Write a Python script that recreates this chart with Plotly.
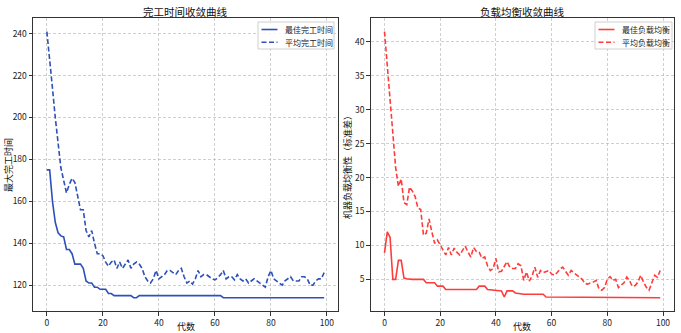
import plotly.graph_objects as go
from plotly.subplots import make_subplots

# Generation index and convergence histories
generations = list(range(100))

best_makespan = [
    175, 175, 160, 150, 145, 143.5, 143, 137, 137, 135,
    130, 130, 130, 128, 122, 121, 121, 119, 119, 118,
    118, 118, 116, 116, 115, 115, 115, 115, 115, 115,
    115, 114, 114, 115, 115, 115, 115, 115, 115, 115,
    115, 115, 115, 115, 115, 115, 115, 115, 115, 115,
    115, 115, 115, 115, 115, 115, 115, 115, 115, 115,
    115, 115, 115, 114, 114, 114, 114, 114, 114, 114,
    114, 114, 114, 114, 114, 114, 114, 114, 114, 114,
    114, 114, 114, 114, 114, 114, 114, 114, 114, 114,
    114, 114, 114, 114, 114, 114, 114, 114, 114, 114,
]

avg_makespan = [
    241, 229, 214, 200, 187, 176, 170, 164, 168, 171,
    169, 162, 156, 156, 146, 143, 146, 140, 135, 135,
    134, 131, 129, 131, 132, 128, 131, 128, 130, 132,
    128, 130, 131, 130, 128, 124, 122, 121, 123, 127,
    123, 124, 125, 127, 127, 126, 125, 127, 128, 124,
    121, 122, 120.5, 123, 127, 124, 125, 125, 124, 123,
    122.5, 123.5, 125, 127, 123, 124, 124, 122.5, 125, 123,
    122, 123, 121, 122, 123, 122, 121, 120, 119, 124,
    127, 123, 122, 121, 120, 122, 123, 124, 122, 122,
    122, 124, 124, 123, 120, 120, 122, 123, 123, 126,
]

best_balance = [
    8.9, 12.0, 11.2, 5.0, 5.0, 7.8, 7.8, 5.2, 5.1, 5.0,
    5.0, 5.0, 5.0, 5.0, 5.0, 4.5, 4.5, 4.5, 4.5, 4.0,
    4.0, 4.0, 3.5, 3.5, 3.5, 3.5, 3.5, 3.5, 3.5, 3.5,
    3.5, 3.5, 3.5, 3.5, 4.0, 4.0, 4.0, 3.5, 3.45, 3.4,
    3.3, 3.3, 3.3, 2.4, 3.3, 3.3, 3.3, 3.0, 2.9, 2.8,
    2.8, 2.8, 2.8, 2.8, 2.8, 2.8, 2.8, 2.8, 2.4, 2.4,
    2.4, 2.4, 2.4, 2.4, 2.4, 2.3, 2.3, 2.3, 2.3, 2.3,
    2.3, 2.3, 2.3, 2.3, 2.3, 2.3, 2.3, 2.3, 2.3, 2.3,
    2.3, 2.3, 2.3, 2.3, 2.3, 2.3, 2.3, 2.3, 2.3, 2.3,
    2.3, 2.3, 2.3, 2.3, 2.3, 2.3, 2.3, 2.3, 2.3, 2.3,
]

avg_balance = [
    41.5, 36.5, 31.5, 26.5, 21.5, 18.7, 19.8, 16.3, 16.0, 18.6,
    18.0, 17.2, 15.5, 15.3, 11.5, 11.8, 13.9, 12.0, 10.3, 10.8,
    10.0, 9.2, 8.6, 9.7, 8.6, 9.6, 9.0, 8.6, 9.2, 9.9,
    9.0, 8.3, 9.7, 9.1, 9.0, 8.1, 8.3, 7.0, 6.3, 6.6,
    8.1, 6.1, 6.2, 6.9, 7.6, 6.8, 6.6, 6.6, 7.3, 7.0,
    4.85, 6.1, 4.75, 5.5, 6.8, 5.3, 6.3, 6.0, 6.2, 6.3,
    5.8, 5.6, 6.0, 6.5, 6.8, 6.2, 5.6, 6.3, 6.0, 5.6,
    5.3, 5.0, 4.4, 4.3, 4.5, 4.6, 4.85, 3.6, 3.4, 3.8,
    5.0, 5.4, 4.85, 5.0, 3.8, 4.2, 4.5, 5.35, 4.8, 3.95,
    4.1, 4.6, 5.6, 4.6, 3.85, 3.4, 4.6, 5.6, 5.3, 6.3,
]

series_names = ["最佳完工时间", "平均完工时间", "最佳负载均衡", "平均负载均衡"]

BLUE = "rgb(45,80,185)"
RED = "rgb(255,60,60)"
DASH = "5px,2.5px"
FONT = "Noto Sans CJK SC, SimHei, sans-serif"
W, H = 681, 333

fig = make_subplots(rows=1, cols=2)

fig.add_trace(go.Scatter(x=generations, y=best_makespan, mode="lines", name=series_names[0],
                         line=dict(color=BLUE, width=1.6)), row=1, col=1)
fig.add_trace(go.Scatter(x=generations, y=avg_makespan, mode="lines", name=series_names[1],
                         line=dict(color=BLUE, width=1.6, dash=DASH)), row=1, col=1)
fig.add_trace(go.Scatter(x=generations, y=best_balance, mode="lines", name=series_names[2],
                         line=dict(color=RED, width=1.6)), row=1, col=2)
fig.add_trace(go.Scatter(x=generations, y=avg_balance, mode="lines", name=series_names[3],
                         line=dict(color=RED, width=1.6, dash=DASH)), row=1, col=2)

def px_x(p):
    return p / W

def px_y(p):
    return 1 - p / H

axis_common = dict(
    showline=True, linecolor="#333", linewidth=1, mirror=True,
    ticks="outside", ticklen=3.5, tickwidth=1, tickcolor="#333",
    showgrid=True, gridcolor="rgba(175,175,175,0.6)", gridwidth=0.8, griddash="3px,2px",
    zeroline=False, tickfont=dict(family=FONT, size=8.5, color="#222"),
)

left_dom = [px_x(33), px_x(338)]
right_dom = [px_x(370.7), px_x(674)]
y_dom = [px_y(311), px_y(18.3)]

fig.update_xaxes(**axis_common, range=[-4.95, 103.95], tickvals=[0, 20, 40, 60, 80, 100])
fig.update_yaxes(**axis_common)
fig.update_layout(
    xaxis=dict(domain=left_dom),
    xaxis2=dict(domain=right_dom),
    yaxis=dict(domain=y_dom, range=[107.65, 247.35], tickvals=[120, 140, 160, 180, 200, 220, 240]),
    yaxis2=dict(domain=y_dom, range=[0.34, 43.46], tickvals=[5, 10, 15, 20, 25, 30, 35, 40]),
)

# Compact legend boxes in the upper-right corner of each panel
shapes = []
annotations = []
legend_boxes = [
    (258, 334, BLUE, series_names[0:2]),
    (595, 672, RED, series_names[2:4]),
]
for x0, x1, color, names in legend_boxes:
    shapes.append(dict(type="rect", xref="paper", yref="paper",
                       x0=px_x(x0), x1=px_x(x1), y0=px_y(49), y1=px_y(22),
                       line=dict(color="#cfcfcf", width=1), fillcolor="rgba(255,255,255,0.85)",
                       layer="above"))
    for row, (name, dash) in enumerate(zip(names, ["solid", DASH])):
        yy = 29.5 + 12.8 * row
        shapes.append(dict(type="line", xref="paper", yref="paper",
                           x0=px_x(x0 + 3.5), x1=px_x(x0 + 19.5), y0=px_y(yy), y1=px_y(yy),
                           line=dict(color=color, width=1.6, dash=dash), layer="above"))
        annotations.append(dict(text=name, x=px_x(x0 + 25), y=px_y(yy), xanchor="left",
                                font=dict(size=8, color="#222")))

annotations += [
    dict(text="完工时间收敛曲线", x=px_x(185.5), y=px_y(12), font=dict(size=10.5)),
    dict(text="负载均衡收敛曲线", x=px_x(522), y=px_y(12), font=dict(size=10.5)),
    dict(text="代数", x=px_x(185.5), y=px_y(326), font=dict(size=9)),
    dict(text="代数", x=px_x(522), y=px_y(326), font=dict(size=9)),
    dict(text="最大完工时间", x=px_x(8), y=px_y(165), textangle=-90, font=dict(size=9)),
    dict(text="机器负载均衡性（标准差）", x=px_x(347), y=px_y(165), textangle=-90, font=dict(size=9)),
]
for a in annotations:
    a.setdefault("xanchor", "center")
    a.update(xref="paper", yref="paper", showarrow=False, yanchor="middle")
    a["font"].setdefault("color", "#111")
    a["font"].update(family=FONT)

fig.update_layout(
    shapes=shapes,
    annotations=annotations,
    width=W, height=H,
    margin=dict(l=0, r=0, t=0, b=0),
    paper_bgcolor="white", plot_bgcolor="white",
    showlegend=False,
)

fig.write_html("out.html")
